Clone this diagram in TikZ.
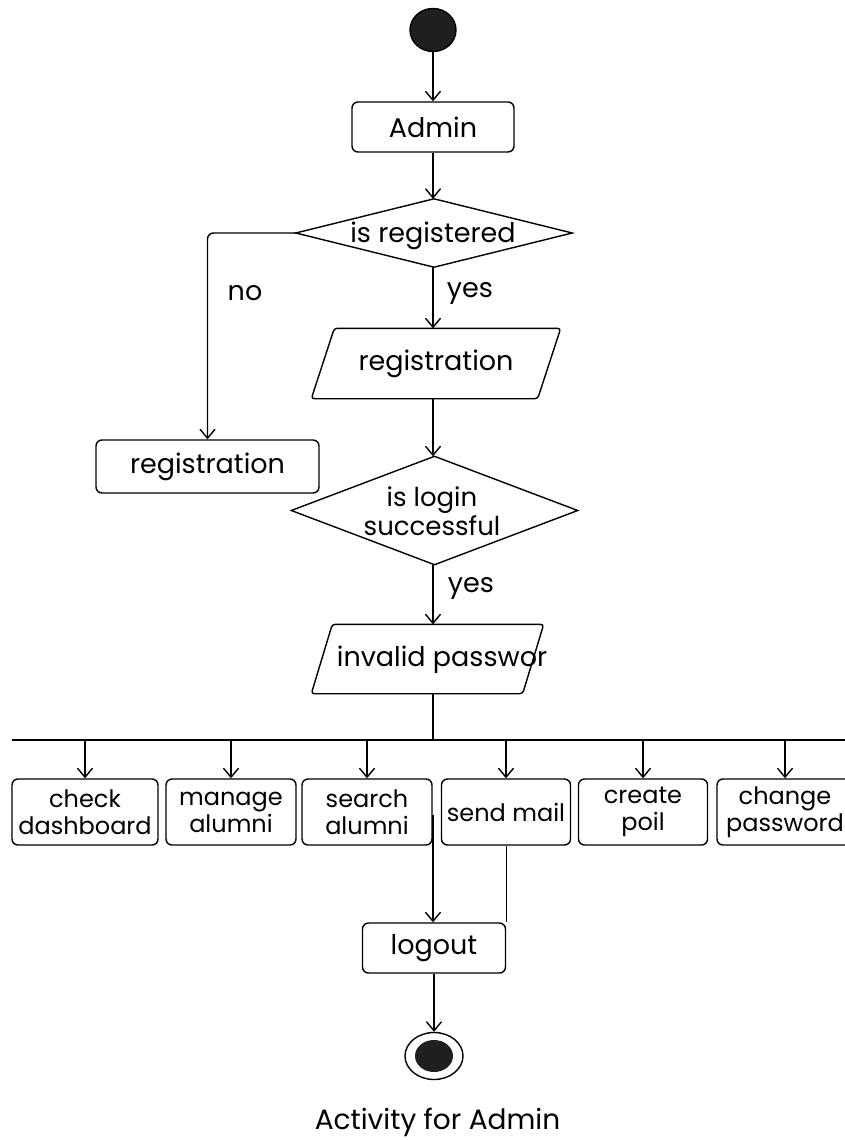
\documentclass[tikz,border=0pt]{standalone}
\usepackage{fontspec}
\setmainfont{Poppins}
\usetikzlibrary{arrows.meta,shapes.geometric,calc}
\begin{document}
\begin{tikzpicture}[x=1pt,y=-1pt,
  line width=1.4pt,
  arr/.style={-{Straight Barb[length=9pt,width=15pt,line width=1.4pt]}},
  box/.style={draw,rounded corners=6pt,inner sep=0pt,align=center,font=\fontsize{27}{29}\selectfont},
  rowbox/.style={box,minimum height=66pt,font=\fontsize{24}{27}\selectfont},
  lbl/.style={inner sep=0pt,font=\fontsize{27}{29}\selectfont},
  ghost/.style={inner sep=0pt,align=center,font=\fontsize{27}{29}\selectfont}]
\useasboundingbox (0,0) rectangle (845,1140);
\clip (0,0) rectangle (845,1140);
% start
\node[draw,fill=black!88,ellipse,minimum width=46pt,minimum height=43pt,inner sep=0pt] (start) at (433,30) {};
\node[box,minimum width=162pt,minimum height=50pt] (admin) at (433,127) {Admin};
% decision 1
\node[ghost,minimum width=275pt,minimum height=67pt] (d1) at (434,233) {};
\draw (d1.north) -- (d1.east) -- (d1.south) -- (d1.west) -- cycle;
\node[lbl] (d1t) at (433,236) {is registered};
% registration parallelogram
\node[ghost,minimum width=248pt,minimum height=69pt] (reg) at (436,363.5) {};
\draw[rounded corners=3pt] ([xshift=23pt]reg.north west) -- (reg.north east) -- ([xshift=-23pt]reg.south east) -- (reg.south west) -- cycle;
\node[lbl] (regt) at (436,364) {registration};
% left registration
\node[box,minimum width=223pt,minimum height=53pt] (regL) at (207.5,466.5) {registration};
% decision 2
\node[ghost,minimum width=285pt,minimum height=107pt] (d2) at (434.5,510.5) {};
\draw (d2.north) -- (d2.east) -- (d2.south) -- (d2.west) -- cycle;
\node[ghost,font=\fontsize{26}{29}\selectfont] (d2t) at (432,511) {is login\\successful};
% invalid password parallelogram
\node[ghost,minimum width=231pt,minimum height=68pt] (inv) at (427.5,659) {};
\draw[rounded corners=3pt] ([xshift=21pt]inv.north west) -- (inv.north east) -- ([xshift=-21pt]inv.south east) -- (inv.south west) -- cycle;
\node[lbl] (invt) at (442,660) {invalid passwor};
% bar
\coordinate (barL) at (12,740);
\coordinate (barR) at (845,740);
\coordinate (barM) at (433,740);
\draw (barL) -- (barR);
% activity boxes
\node[rowbox,minimum width=146pt] (b1) at (85,812) {check\\dashboard};
\node[rowbox,minimum width=130pt] (b2) at (231,812) {manage\\alumni};
\node[rowbox,minimum width=130pt] (b3) at (367,812) {search\\alumni};
\node[rowbox,minimum width=129pt] (b4) at (506,812) {send mail};
\node[rowbox,minimum width=129pt] (b5) at (643,812) {create\\poil};
\node[rowbox,minimum width=136pt] (b6) at (785,812) {change\\password};
% logout
\node[box,minimum width=143pt,minimum height=50pt] (logout) at (434,948) {logout};
% end
\node[draw,ellipse,minimum width=58pt,minimum height=47pt,inner sep=0pt] (endo) at (434,1056) {};
\node[fill=black!88,ellipse,minimum width=38pt,minimum height=32pt,inner sep=0pt] (endi) at (434,1056) {};
% caption
\node[lbl,font=\fontsize{28}{30}\selectfont] (cap) at (437.5,1122) {Activity for Admin};
% connectors
\draw[arr] (start) -- (admin);
\draw[arr] (admin) -- (admin.south |- d1.north);
\draw[arr,rounded corners=6pt] (d1.west) -| (regL.north);
\draw[arr] (barM |- d1.south) -- (barM |- reg.north);
\draw[arr] (barM |- reg.south) -- (barM |- d2.north);
\draw[arr] (barM |- d2.south) -- (barM |- inv.north);
\draw (barM |- inv.south) -- (barM);
\foreach \b in {b1,b2,b3,b4,b5,b6}{
  \draw[arr] (\b.north |- barM) -- (\b.north);
}
\coordinate (j1) at (433,815);
\draw[arr] (j1) -- (j1 |- logout.north);
\draw (b4.south -| logout.east) -- (logout.north east);
\draw[arr] (logout) -- (endo);
% labels
\node[lbl] (no) at (245,293) {no};
\node[lbl] (yes1) at (470,293) {yes};
\node[lbl] (yes2) at (471,588) {yes};
\end{tikzpicture}
\end{document}
